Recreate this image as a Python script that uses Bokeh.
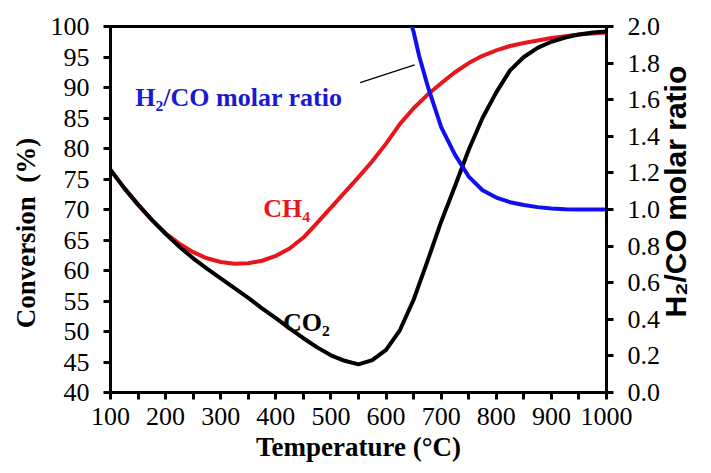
import math
from bokeh.plotting import figure
from bokeh.models import Range1d, LinearAxis, Label, FixedTicker, NumeralTickFormatter
from bokeh.embed import file_html
from bokeh.resources import INLINE

# ---- data ----
temperature = [100, 125, 150, 175, 200, 225, 250, 275, 300, 325, 350, 375, 400,
               425, 450, 475, 500, 525, 550, 575, 600, 625, 650, 675, 700, 725,
               750, 775, 800, 825, 850, 875, 900, 925, 950, 975, 1000]
co2_conversion = [76.5, 73.5, 70.8, 68.3, 66.0, 63.9, 62.0, 60.3, 58.7, 57.1, 55.5,
                  53.8, 52.2, 50.5, 48.9, 47.4, 46.1, 45.2, 44.6, 45.3, 47.0, 50.2,
                  55.2, 61.5, 68.0, 73.8, 79.8, 85.0, 89.2, 92.8, 95.0, 96.5, 97.5,
                  98.2, 98.7, 99.0, 99.2]
ch4_conversion = [76.5, 73.5, 70.8, 68.3, 66.1, 64.4, 63.0, 62.0, 61.4, 61.1, 61.2,
                  61.6, 62.4, 63.6, 65.4, 67.8, 70.3, 72.8, 75.3, 77.9, 80.8, 84.0,
                  86.6, 88.8, 90.7, 92.5, 94.0, 95.2, 96.1, 96.8, 97.3, 97.7, 98.1,
                  98.4, 98.7, 98.85, 99.0]
ratio_temperature = [647, 650, 660, 675, 700, 725, 750, 775, 800, 825, 850, 875,
                     900, 925, 950, 975, 1000]
h2_co_ratio = [2.0, 1.97, 1.84, 1.68, 1.45, 1.30, 1.18, 1.105, 1.065, 1.04, 1.025,
               1.013, 1.006, 1.002, 1.0, 1.0, 1.0]

x_ticks = [100, 200, 300, 400, 500, 600, 700, 800, 900, 1000]
x_minor_ticks = [150, 250, 350, 450, 550, 650, 750, 850, 950]
y_ticks = [40, 45, 50, 55, 60, 65, 70, 75, 80, 85, 90, 95, 100]
ratio_ticks = [0.0, 0.2, 0.4, 0.6, 0.8, 1.0, 1.2, 1.4, 1.6, 1.8, 2.0]

# annotation leader line (label -> blue curve)
leader_x = [553, 652]
leader_y = [90.8, 93.7]

RED = "#e8161c"
BLUE = "#1010ee"
SERIF = "Liberation Serif"
SANS = "Liberation Sans"
NB = "\u00a0"

p = figure(width=711, height=473, x_range=Range1d(100, 1000), y_range=Range1d(40, 100),
           output_backend="svg", toolbar_location=None,
           min_border_left=110, min_border_right=104, min_border_top=26, min_border_bottom=81)
p.extra_y_ranges = {"ratio": Range1d(0, 2.0)}
p.xgrid.visible = False
p.ygrid.visible = False
p.outline_line_color = "black"
p.outline_line_width = 3
p.background_fill_color = "white"
p.border_fill_color = "white"

def style_axis(ax):
    ax.axis_line_color = "black"
    ax.axis_line_width = 3
    ax.major_tick_line_color = "black"
    ax.major_tick_line_width = 3
    ax.major_tick_in = 0
    ax.major_tick_out = 7
    ax.minor_tick_line_color = None
    ax.major_label_text_font = SERIF
    ax.major_label_text_font_size = "26px"
    ax.major_label_text_color = "black"
    ax.axis_label_text_color = "black"
    ax.axis_label_text_font_style = "bold"
    ax.axis_label_text_font_size = "27px"

xa = p.xaxis[0]
style_axis(xa)
xa.ticker = FixedTicker(ticks=x_ticks, minor_ticks=x_minor_ticks)
xa.minor_tick_line_color = "black"
xa.minor_tick_line_width = 3
xa.minor_tick_in = 0
xa.minor_tick_out = 7
xa.major_label_standoff = 8
xa.axis_label = "Temperature (°C)"
xa.axis_label_text_font = SERIF
xa.axis_label_standoff = 4

ya = p.yaxis[0]
style_axis(ya)
ya.ticker = FixedTicker(ticks=y_ticks)
ya.major_label_standoff = 14
ya.axis_label = "Conversion" + NB + NB + "(%)" + NB * 7
ya.axis_label_text_font = SERIF
ya.axis_label_standoff = 7

ra = LinearAxis(y_range_name="ratio")
style_axis(ra)
ra.ticker = FixedTicker(ticks=ratio_ticks)
ra.formatter = NumeralTickFormatter(format="0.0")
ra.major_label_standoff = 14
ra.axis_label_text_font = SANS
ra.axis_label_text_font_size = "30px"
ra.axis_label_standoff = 12
if "axis_label_align" in ra.properties():
    # anchor at the bottom of the axis and read bottom-to-top
    ra.axis_label_align = "start"
    ra.axis_label_orientation = math.pi / 2
    ra.axis_label = NB * 9 + "H\u2082/CO molar ratio"
else:
    ra.axis_label = "H\u2082/CO molar ratio"
p.add_layout(ra, "right")

p.line(temperature, ch4_conversion, line_color=RED, line_width=4)
p.line(temperature, co2_conversion, line_color="black", line_width=4)
p.line(ratio_temperature, h2_co_ratio, line_color=BLUE, line_width=4, y_range_name="ratio")
p.line(leader_x, leader_y, line_color="black", line_width=1.2)

p.add_layout(Label(x=145, y=88.4, text="H\u2082/CO molar ratio", text_color="#1a1ad0",
                   text_font=SERIF, text_font_style="bold", text_font_size="26px",
                   text_baseline="alphabetic"))
p.add_layout(Label(x=377, y=70.2, text="CH\u2084", text_color=RED,
                   text_font=SERIF, text_font_style="bold", text_font_size="26px",
                   text_baseline="alphabetic"))
p.add_layout(Label(x=413, y=51.5, text="CO\u2082", text_color="black",
                   text_font=SERIF, text_font_style="bold", text_font_size="26px",
                   text_baseline="alphabetic"))

open("out.html", "w").write(file_html(p, INLINE))
